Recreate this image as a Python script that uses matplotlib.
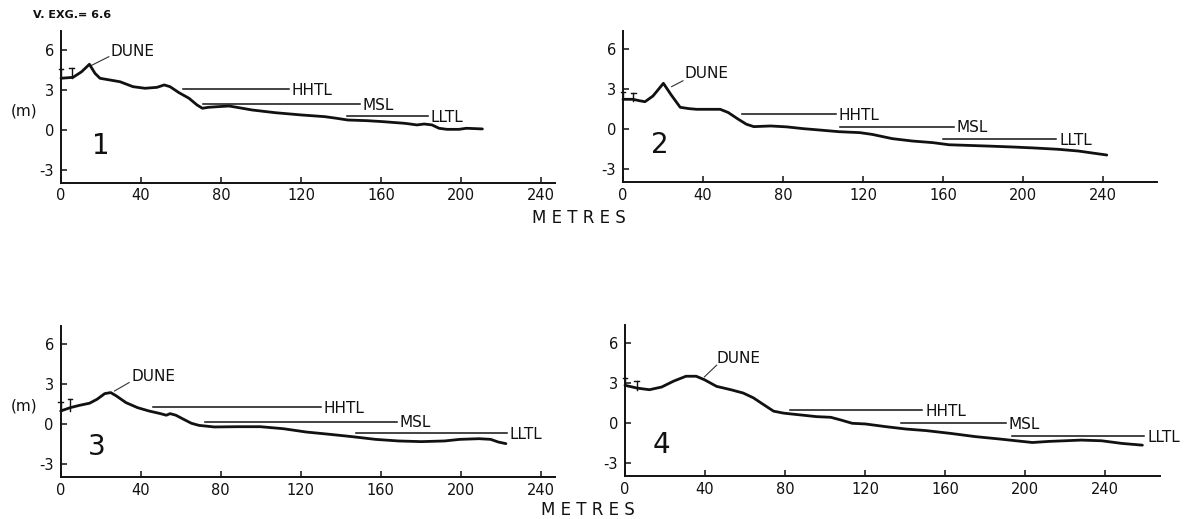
import matplotlib
matplotlib.use("Agg")
import matplotlib.pyplot as plt

plt.rcParams['font.family'] = ['DejaVu Sans']
plt.rcParams['axes.unicode_minus'] = False

# ---------------- data ----------------
x_ticks = [0, 40, 80, 120, 160, 200, 240]
y_ticks = [-3, 0, 3, 6]
level_names = ["HHTL", "MSL", "LLTL"]

p1_dist = [0, 6, 10.3, 14.2, 17, 19.5, 24.5, 29.5, 36, 42, 48, 51.6, 54.5, 59, 64, 68, 70.7,
           73.6, 78.4, 84, 88, 95.6, 107, 120, 132, 137.7, 143.4, 153, 160.6, 172, 178,
           181.6, 185.5, 189, 193, 199, 202.7, 210.7]
p1_elev = [3.88, 3.95, 4.37, 4.93, 4.25, 3.88, 3.75, 3.62, 3.25, 3.13, 3.2, 3.38, 3.25, 2.8,
           2.38, 1.88, 1.63, 1.7, 1.75, 1.8, 1.7, 1.5, 1.3, 1.13, 1.0, 0.88, 0.75, 0.7, 0.63,
           0.5, 0.38, 0.45, 0.38, 0.13, 0.05, 0.05, 0.13, 0.08]
p1_levels = [3.05, 1.95, 1.05]          # HHTL, MSL, LLTL elevation (m)
p1_level_from = [60.8, 71.0, 143.0]
p1_level_to = [113.8, 149.5, 183.5]
p1_bench_x = [0, 5.3]
p1_bench_top = [4.6, 4.67]

p2_dist = [0, 5, 8, 11, 15, 20.2, 24, 28.6, 33, 36.9, 40.5, 48.6, 52.6, 57.7, 61.7, 65.4,
           73.9, 82, 90, 98, 108, 118.4, 124.5, 134.6, 144.7, 154.9, 163, 171, 183, 195.3,
           205.5, 217.6, 227.7, 233.8, 241.9]
p2_elev = [2.25, 2.25, 2.15, 2.07, 2.5, 3.45, 2.6, 1.65, 1.55, 1.5, 1.5, 1.5, 1.26, 0.75,
           0.38, 0.2, 0.25, 0.18, 0.05, -0.05, -0.18, -0.25, -0.38, -0.7, -0.88, -1.0, -1.16,
           -1.2, -1.26, -1.33, -1.4, -1.5, -1.63, -1.76, -1.93]
p2_levels = [1.16, 0.2, -0.75]
p2_level_from = [59.3, 108.3, 160.0]
p2_level_to = [106.3, 165.4, 216.6]
p2_bench_x = [0, 5.2]
p2_bench_top = [2.82, 2.75]

p3_dist = [0, 4.8, 9.6, 14.4, 18.2, 22, 25, 27.8, 32.6, 38.4, 44.1, 49.9, 52.8, 54.7, 57.6,
           61.4, 65.3, 69.1, 76.8, 88.3, 99.8, 111.3, 122.8, 134.4, 145.9, 157.4, 168.9,
           180.4, 191.9, 199.6, 209.2, 215, 218.8, 222.6]
p3_elev = [1.0, 1.25, 1.43, 1.58, 1.88, 2.3, 2.38, 2.13, 1.63, 1.25, 1.0, 0.8, 0.68, 0.8,
           0.68, 0.38, 0.08, -0.08, -0.2, -0.18, -0.18, -0.33, -0.58, -0.75, -0.93, -1.13,
           -1.25, -1.3, -1.25, -1.13, -1.08, -1.13, -1.33, -1.45]
p3_levels = [1.3, 0.2, -0.65]
p3_level_from = [46.0, 72.0, 147.8]
p3_level_to = [130.1, 168.0, 223.0]
p3_bench_x = [0, 4.6]
p3_bench_top = [1.7, 1.87]

p4_dist = [0, 6.1, 12.2, 18.3, 24.4, 30.5, 35.6, 39.7, 45.8, 52.9, 59.1, 64.2, 69.2, 74.3,
           79.4, 87.6, 95.7, 102.9, 107.9, 113.6, 120.2, 130.3, 140.5, 150.7, 162.9, 175.2,
           187.4, 195.5, 203.7, 211.8, 220, 228.1, 238.3, 248.5, 258.7]
p4_elev = [2.85, 2.64, 2.52, 2.72, 3.17, 3.53, 3.53, 3.27, 2.77, 2.52, 2.27, 1.91, 1.41,
           0.91, 0.76, 0.63, 0.5, 0.45, 0.25, 0, -0.05, -0.25, -0.43, -0.55, -0.76, -1.0,
           -1.18, -1.31, -1.44, -1.36, -1.31, -1.26, -1.31, -1.51, -1.64]
p4_levels = [1.0, 0.03, -0.98]
p4_level_from = [82.5, 138.0, 193.5]
p4_level_to = [148.7, 190.4, 259.7]
p4_bench_x = [0, 5.8]
p4_bench_top = [3.37, 3.2]

panel_ids = ["1", "2", "3", "4"]

# ---------------- layout ----------------
W, H = 1197, 519
fig = plt.figure(figsize=(W / 100, H / 100), dpi=100)

PX_PER_M_X = 2.0
PX_PER_M_Y = 13.33
Y_LO, Y_HI = -3.95, 7.4

# (origin x px, origin y px for elevation 0, x-limit in m)
panel_geom = [(61, 130.0, 247), (623, 129.3, 267), (60.7, 424.3, 247), (625, 423.3, 267.5)]

panels = [
    (p1_dist, p1_elev, p1_levels, p1_level_from, p1_level_to, p1_bench_x, p1_bench_top),
    (p2_dist, p2_elev, p2_levels, p2_level_from, p2_level_to, p2_bench_x, p2_bench_top),
    (p3_dist, p3_elev, p3_levels, p3_level_from, p3_level_to, p3_bench_x, p3_bench_top),
    (p4_dist, p4_elev, p4_levels, p4_level_from, p4_level_to, p4_bench_x, p4_bench_top),
]

# annotation placements (data coords): dune label, leader, panel number
dune_text = [(24.9, 5.9), (31.0, 4.15), (35.5, 3.58), (45.8, 4.86)]
dune_leader = [((15.3, 4.85), (23.9, 5.5)), ((24.3, 3.2), (30.0, 3.64)),
               ((26.9, 2.5), (34.2, 3.13)), ((39.7, 3.48), (45.8, 4.36))]
number_pos = [(20.0, -1.2), (18.6, -1.18), (18.0, -1.67), (18.3, -1.63)]

for i, ((x0, y0, xmax), data) in enumerate(zip(panel_geom, panels)):
    dist, elev, levels, lfrom, lto, bx, btop = data
    left = x0
    right = x0 + xmax * PX_PER_M_X
    top = y0 - Y_HI * PX_PER_M_Y
    bottom = y0 - Y_LO * PX_PER_M_Y
    ax = fig.add_axes([left / W, 1 - bottom / H, (right - left) / W, (bottom - top) / H])
    ax.set_xlim(0, xmax)
    ax.set_ylim(Y_LO, Y_HI)
    ax.patch.set_alpha(0)
    for s in ("top", "right"):
        ax.spines[s].set_visible(False)
    for s in ("left", "bottom"):
        ax.spines[s].set_linewidth(1.4)
        ax.spines[s].set_color("#111111")
    ax.set_xticks(x_ticks)
    ax.set_yticks(y_ticks)
    ax.set_xticklabels([str(t) for t in x_ticks])
    ax.set_yticklabels([str(t) for t in y_ticks])
    ax.tick_params(axis="both", direction="in", length=4, width=1.1, color="#111111",
                   labelsize=10.5, labelcolor="#111111")
    ax.tick_params(axis="y", pad=5)
    ax.tick_params(axis="x", pad=4)

    # profile
    ax.plot(dist, elev, color="#111111", lw=2.0, solid_capstyle="round",
            solid_joinstyle="round", clip_on=False, zorder=3)

    # tide levels
    for name, lv, a, b in zip(level_names, levels, lfrom, lto):
        ax.plot([a, b], [lv, lv], color="#111111", lw=1.1, zorder=2, clip_on=False)
        ax.text(b + 1.5, lv - 0.1, name, fontsize=11, va="center", ha="left",
                color="#111111")

    # bench marks
    for bxx, bt in zip(bx, btop):
        base = elev[0] if bxx == 0 else min(elev[:3])
        ax.plot([bxx, bxx], [base, bt], color="#111111", lw=1.0, clip_on=False)
        ax.plot([bxx - 1.2, bxx + 1.2], [bt, bt], color="#111111", lw=1.0, clip_on=False)

    # dune label
    tx, ty = dune_text[i]
    ax.text(tx, ty, "DUNE", fontsize=11, va="center", ha="left", color="#111111")
    (lx1, ly1), (lx2, ly2) = dune_leader[i]
    ax.plot([lx1, lx2], [ly1, ly2], color="#333333", lw=0.8)

    # panel number
    nx, ny = number_pos[i]
    ax.text(nx, ny, panel_ids[i], fontsize=20, va="center", ha="center", color="#111111")

    if i in (0, 2):
        ax.text(-0.074, (1.4 - Y_LO) / (Y_HI - Y_LO), "(m)", transform=ax.transAxes,
                fontsize=11, ha="center", va="center", color="#111111")

fig.text(579 / W, 1 - 218 / H, "M E T R E S", fontsize=12, ha="center", va="center",
         color="#111111")
fig.text(588 / W, 1 - 510 / H, "M E T R E S", fontsize=12, ha="center", va="center",
         color="#111111")
fig.text(33 / W, 1 - 15 / H, "V. EXG.= 6.6", fontsize=8, fontweight="bold", ha="left",
         va="center", color="#111111")

fig.savefig("out.png", dpi=100, facecolor="white")
